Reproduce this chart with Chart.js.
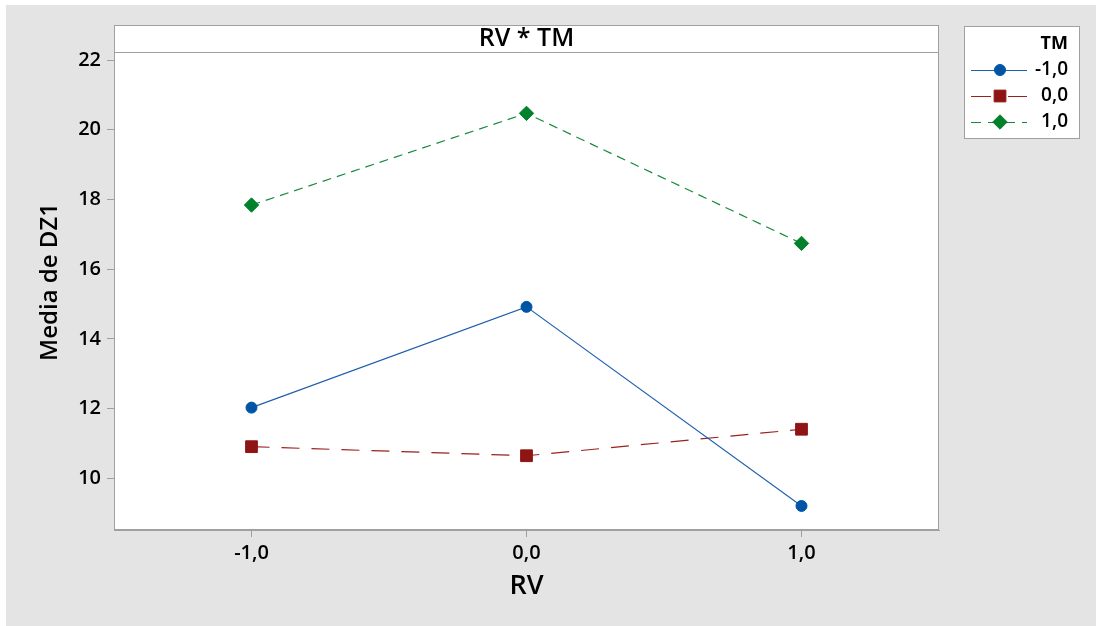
<!DOCTYPE html>
<html>
<head>
<meta charset="utf-8">
<script src="https://cdn.jsdelivr.net/npm/chart.js@4/dist/chart.umd.min.js"></script>
<style>
  html, body { margin: 0; padding: 0; background: #ffffff; }
  #wrap { width: 1096px; height: 626px; position: relative; }
</style>
</head>
<body>
<div id="wrap"><canvas id="c" width="1096" height="626"></canvas></div>
<script>
// ---- data ----
const categories = [-1, 0, 1];                 // RV levels
const xTickLabels = ['-1,0', '0,0', '1,0'];
const yTickValues = [10, 12, 14, 16, 18, 20, 22];
const tmLevels = ['-1,0', '0,0', '1,0'];       // legend labels (TM)
const meanTMminus1 = [12.03, 14.92, 9.21];
const meanTM0 = [10.91, 10.65, 11.41];
const meanTM1 = [17.84, 20.47, 16.74];
const plotTitle = 'RV * TM';
const xTitle = 'RV';
const yTitle = 'Media de DZ1';
const legendTitle = 'TM';

const FONT = "'Open Sans', 'Noto Sans', sans-serif";
const W = '600';
const FRAME = '#a0a0a0';

function pts(vals) { return categories.map((x, i) => ({ x: x, y: vals[i] })); }

const datasets = [
  { label: tmLevels[0], data: pts(meanTMminus1), borderColor: '#1f5fae', backgroundColor: '#0054a6',
    pointBackgroundColor: '#0054a6', pointBorderColor: '#0054a6', pointStyle: 'circle', pointRadius: 5.5,
    borderWidth: 1.1, borderDash: [], legendDash: [] },
  { label: tmLevels[1], data: pts(meanTM0), borderColor: '#9b2020', backgroundColor: '#8f1414',
    pointBackgroundColor: '#8f1414', pointBorderColor: '#8f1414', pointStyle: 'rect', pointRadius: 8.3,
    borderWidth: 1.2, borderDash: [18, 12], legendDash: [20, 17] },
  { label: tmLevels[2], data: pts(meanTM1), borderColor: '#168a3a', backgroundColor: '#00812a',
    pointBackgroundColor: '#00812a', pointBorderColor: '#00812a', pointStyle: 'rectRot', pointRadius: 7.2,
    borderWidth: 1.2, borderDash: [9, 6], legendDash: [10, 7] }
];
datasets.forEach(d => { d.pointBorderWidth = 1; d.pointHoverRadius = d.pointRadius; d.tension = 0; d.fill = false; });

const frame = { left: 114, right: 939, top: 25, header: 52, bottom: 530 };

const decor = {
  id: 'decor',
  beforeDraw(chart) {
    const ctx = chart.ctx;
    ctx.save();
    ctx.fillStyle = '#ffffff';
    ctx.fillRect(0, 0, chart.width, chart.height);
    ctx.fillStyle = '#e4e4e4';
    ctx.fillRect(6, 5, chart.width - 6, chart.height - 5);
    ctx.fillStyle = '#ffffff';
    ctx.fillRect(frame.left, frame.top, frame.right - frame.left, frame.bottom - frame.top);
    ctx.restore();
  },
  afterDraw(chart) {
    const ctx = chart.ctx;
    const H = Chart.helpers;
    ctx.save();
    // frame + header strip
    ctx.strokeStyle = FRAME;
    ctx.lineWidth = 1;
    ctx.strokeRect(frame.left + 0.5, frame.top + 0.5, frame.right - frame.left - 1, frame.bottom - frame.top - 1);
    ctx.beginPath();
    ctx.moveTo(frame.left, frame.header + 0.5);
    ctx.lineTo(frame.right, frame.header + 0.5);
    ctx.stroke();
    // header text
    ctx.fillStyle = '#000';
    ctx.font = W + ' 25px ' + FONT;
    ctx.textAlign = 'center';
    ctx.textBaseline = 'middle';
    ctx.fillText(plotTitle, (frame.left + frame.right) / 2, 38.5);
    // y title
    ctx.save();
    ctx.translate(50, 282);
    ctx.rotate(-Math.PI / 2);
    ctx.font = W + ' 24px ' + FONT;
    ctx.fillText(yTitle, 0, 0);
    ctx.restore();
    // legend
    const lx = 964, ly = 26, lw = 116, lh = 113;
    ctx.fillStyle = '#ffffff';
    ctx.fillRect(lx, ly, lw, lh);
    ctx.strokeStyle = FRAME;
    ctx.strokeRect(lx + 0.5, ly + 0.5, lw - 1, lh - 1);
    ctx.fillStyle = '#000';
    ctx.textAlign = 'right';
    ctx.font = 'bold 18px ' + FONT;
    ctx.fillText(legendTitle, 1068, 44);
    ctx.font = W + ' 19px ' + FONT;
    chart.data.datasets.forEach((ds, i) => {
      const y = 70 + i * 26;
      ctx.save();
      ctx.strokeStyle = ds.borderColor;
      ctx.lineWidth = ds.borderWidth;
      ctx.setLineDash(ds.legendDash);
      ctx.beginPath();
      ctx.moveTo(971, y + 0.5);
      ctx.lineTo(1027, y + 0.5);
      ctx.stroke();
      ctx.restore();
      ctx.fillStyle = ds.pointBackgroundColor;
      ctx.strokeStyle = ds.pointBorderColor;
      ctx.lineWidth = 1;
      H.drawPoint(ctx, { pointStyle: ds.pointStyle, radius: ds.pointRadius, rotation: 0, borderWidth: 1 }, 1000, y);
      ctx.fillStyle = '#000';
      ctx.fillText(ds.label, 1068, y);
    });
    ctx.restore();
  }
};

new Chart(document.getElementById('c'), {
  type: 'line',
  data: { datasets: datasets },
  options: {
    responsive: false,
    animation: false,
    events: [],
    layout: { padding: { left: 0, top: 52, right: 157, bottom: 0 } },
    plugins: { legend: { display: false }, tooltip: { enabled: false } },
    scales: {
      x: {
        type: 'linear',
        min: -1.5, max: 1.5,
        afterBuildTicks(scale) { scale.ticks = categories.map(v => ({ value: v })); },
        afterFit(scale) { scale.height = 96; },
        ticks: {
          callback(v) { const i = categories.indexOf(v); return i >= 0 ? xTickLabels[i] : ''; },
          font: { family: FONT, size: 20, weight: W }, color: '#000', padding: 4, maxRotation: 0, autoSkip: false
        },
        grid: { drawOnChartArea: false, drawTicks: true, tickLength: 7, color: FRAME, tickColor: FRAME },
        border: { color: FRAME, width: 1 },
        title: { display: true, text: xTitle, font: { family: FONT, size: 27, weight: W }, color: '#000', padding: { top: 0, bottom: 23 } }
      },
      y: {
        type: 'linear',
        min: 8.52, max: 22.23,
        afterBuildTicks(scale) { scale.ticks = yTickValues.map(v => ({ value: v })); },
        afterFit(scale) { scale.width = 114; },
        ticks: { font: { family: FONT, size: 20, weight: W }, color: '#000', padding: 6, autoSkip: false },
        grid: { drawOnChartArea: false, drawTicks: true, tickLength: 7, color: FRAME, tickColor: FRAME },
        border: { color: FRAME, width: 1 }
      }
    }
  },
  plugins: [decor]
});
</script>
</body>
</html>
